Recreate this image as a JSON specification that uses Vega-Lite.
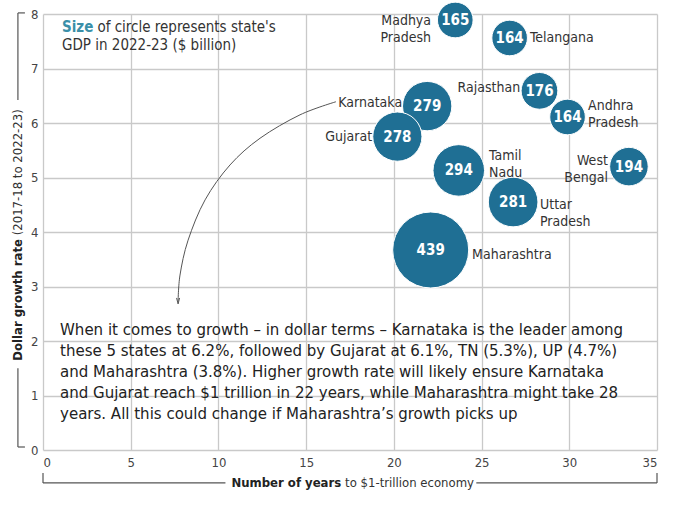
{
  "$schema": "https://vega.github.io/schema/vega-lite/v6.json",
  "width": 614,
  "height": 436,
  "autosize": {"type": "none"},
  "padding": {"left": 43, "top": 14, "right": 23, "bottom": 60},
  "background": "#ffffff",
  "config": {
    "view": {"stroke": null},
    "font": "DejaVu Sans Condensed, Roboto, sans-serif",
    "axis": {
      "labelFont": "DejaVu Sans Condensed, Roboto, sans-serif",
      "labelFontSize": 13,
      "labelColor": "#444444",
      "gridColor": "#c9c9c9",
      "gridWidth": 1.3,
      "domain": false,
      "ticks": false
    }
  },
  "datasets": {
    "states": [
      {"state": "Madhya Pradesh", "years": 23.5, "growth": 7.89, "gdp": 165},
      {"state": "Telangana", "years": 26.6, "growth": 7.56, "gdp": 164},
      {"state": "Rajasthan", "years": 28.3, "growth": 6.59, "gdp": 176},
      {"state": "Andhra Pradesh", "years": 29.9, "growth": 6.11, "gdp": 164},
      {"state": "Karnataka", "years": 21.9, "growth": 6.31, "gdp": 279},
      {"state": "Gujarat", "years": 20.2, "growth": 5.75, "gdp": 278},
      {"state": "Tamil Nadu", "years": 23.7, "growth": 5.13, "gdp": 294},
      {"state": "Uttar Pradesh", "years": 26.8, "growth": 4.55, "gdp": 281},
      {"state": "West Bengal", "years": 33.4, "growth": 5.2, "gdp": 194},
      {"state": "Maharashtra", "years": 22.1, "growth": 3.67, "gdp": 439}
    ],
    "labelsRight": [
      {"label": "Telangana", "x": 27.76, "y": 7.56},
      {"label": "Andhra\nPradesh", "x": 31.07, "y": 6.31},
      {"label": "Tamil\nNadu", "x": 25.43, "y": 5.39},
      {"label": "Uttar\nPradesh", "x": 28.33, "y": 4.5},
      {"label": "Maharashtra", "x": 24.46, "y": 3.58}
    ],
    "labelsLeft": [
      {"label": "Madhya\nPradesh", "x": 22.12, "y": 7.87},
      {"label": "Rajasthan", "x": 27.2, "y": 6.64},
      {"label": "Karnataka", "x": 20.47, "y": 6.37},
      {"label": "Gujarat", "x": 18.76, "y": 5.74},
      {"label": "West\nBengal", "x": 32.2, "y": 5.3}
    ],
    "para": [
      {"line": "When it comes to growth – in dollar terms – Karnataka is the leader among", "x": 0.97, "y": 2.2},
      {"line": "these 5 states at 6.2%, followed by Gujarat at 6.1%, TN (5.3%), UP (4.7%)", "x": 0.97, "y": 1.82},
      {"line": "and Maharashtra (3.8%). Higher growth rate will likely ensure Karnataka", "x": 0.97, "y": 1.43},
      {"line": "and Gujarat reach $1 trillion in 22 years, while Maharashtra might take 28", "x": 0.97, "y": 1.05},
      {"line": "years. All this could change if Maharashtra’s growth picks up", "x": 0.97, "y": 0.66}
    ],
    "arrow": [
      {"o": 1, "x": 16.7, "y": 6.39},
      {"o": 2, "x": 14.65, "y": 6.15},
      {"o": 3, "x": 12.37, "y": 5.72},
      {"o": 4, "x": 10.66, "y": 5.23},
      {"o": 5, "x": 9.24, "y": 4.59},
      {"o": 6, "x": 8.27, "y": 3.85},
      {"o": 7, "x": 7.81, "y": 3.21},
      {"o": 8, "x": 7.7, "y": 2.72}
    ],
    "arrowTip": [{"x": 7.7, "y": 2.68}],
    "brackets": [
      {"x": 0, "x2": 10.4, "y": -0.605, "y2": -0.605},
      {"x": 24.7, "x2": 35, "y": -0.605, "y2": -0.605},
      {"x": 0, "x2": 0, "y": -0.605, "y2": -0.42},
      {"x": 35, "x2": 35, "y": -0.605, "y2": -0.42},
      {"x": -1.43, "x2": -1.43, "y": 8.02, "y2": 6.42},
      {"x": -1.43, "x2": -1.43, "y": 1.5, "y2": 0.055},
      {"x": -1.43, "x2": -1.03, "y": 8.02, "y2": 8.02},
      {"x": -1.43, "x2": -1.03, "y": 0.055, "y2": 0.055}
    ],
    "titlesBold": [{"t": "Number of years", "x": 17.0, "y": -0.605}],
    "titlesReg": [{"t": "to $1-trillion economy", "x": 17.22, "y": -0.605}],
    "ytitleBold": [{"t": "Dollar growth rate", "x": -1.43, "y": 3.87}],
    "ytitleReg": [{"t": "(2017-18 to 2022-23)", "x": -1.43, "y": 3.94}],
    "noteBold": [{"t": "Size", "x": 1.08, "y": 7.76}],
    "noteReg": [
      {"t": "of circle represents state's", "x": 3.1, "y": 7.76},
      {"t": "GDP in 2022-23 ($ billion)", "x": 1.08, "y": 7.43}
    ]
  },
  "layer": [
    {
      "data": {"name": "states"},
      "mark": {"type": "circle", "opacity": 1, "color": "#1f6f94", "stroke": "#ffffff", "strokeWidth": 1},
      "encoding": {
        "x": {"field": "years", "type": "quantitative",
          "scale": {"domain": [0, 35], "nice": false},
          "axis": {"values": [0, 5, 10, 15, 20, 25, 30, 35], "title": null, "labelPadding": 6}},
        "y": {"field": "growth", "type": "quantitative",
          "scale": {"domain": [0, 8], "nice": false},
          "axis": {"values": [0, 1, 2, 3, 4, 5, 6, 7, 8], "title": null, "labelPadding": 5}},
        "size": {"field": "gdp", "type": "quantitative",
          "scale": {"type": "pow", "exponent": 2.5, "zero": false, "domain": [164, 439], "range": [1267, 5776]},
          "legend": null}
      }
    },
    {
      "data": {"name": "states"},
      "mark": {"type": "text", "color": "#ffffff", "fontWeight": "bold", "fontSize": 15, "baseline": "middle", "align": "center"},
      "encoding": {
        "x": {"field": "years", "type": "quantitative"},
        "y": {"field": "growth", "type": "quantitative"},
        "text": {"field": "gdp", "type": "quantitative"}
      }
    },
    {
      "data": {"name": "labelsRight"},
      "mark": {"type": "text", "color": "#333333", "fontSize": 14, "baseline": "middle", "align": "left", "lineBreak": "\n", "lineHeight": 17},
      "encoding": {
        "x": {"field": "x", "type": "quantitative"},
        "y": {"field": "y", "type": "quantitative"},
        "text": {"field": "label"}
      }
    },
    {
      "data": {"name": "labelsLeft"},
      "mark": {"type": "text", "color": "#333333", "fontSize": 14, "baseline": "middle", "align": "right", "lineBreak": "\n", "lineHeight": 17},
      "encoding": {
        "x": {"field": "x", "type": "quantitative"},
        "y": {"field": "y", "type": "quantitative"},
        "text": {"field": "label"}
      }
    },
    {
      "data": {"name": "para"},
      "mark": {"type": "text", "color": "#222222", "fontSize": 16.7, "baseline": "middle", "align": "left"},
      "encoding": {
        "x": {"field": "x", "type": "quantitative"},
        "y": {"field": "y", "type": "quantitative"},
        "text": {"field": "line"}
      }
    },
    {
      "data": {"name": "arrow"},
      "mark": {"type": "line", "color": "#555555", "strokeWidth": 1, "interpolate": "cardinal"},
      "encoding": {
        "x": {"field": "x", "type": "quantitative"},
        "y": {"field": "y", "type": "quantitative"},
        "order": {"field": "o", "type": "quantitative"}
      }
    },
    {
      "data": {"name": "arrowTip"},
      "mark": {"type": "point", "shape": "M-1,-4L0,0L1,-4", "filled": false, "color": "#555555", "strokeWidth": 1, "size": 9, "opacity": 1},
      "encoding": {
        "x": {"field": "x", "type": "quantitative"},
        "y": {"field": "y", "type": "quantitative"}
      }
    },
    {
      "data": {"name": "brackets"},
      "mark": {"type": "rule", "color": "#555555", "strokeWidth": 1.2},
      "encoding": {
        "x": {"field": "x", "type": "quantitative"},
        "x2": {"field": "x2"},
        "y": {"field": "y", "type": "quantitative"},
        "y2": {"field": "y2"}
      }
    },
    {
      "data": {"name": "titlesBold"},
      "mark": {"type": "text", "color": "#222222", "fontSize": 13, "fontWeight": "bold", "baseline": "middle", "align": "right"},
      "encoding": {
        "x": {"field": "x", "type": "quantitative"},
        "y": {"field": "y", "type": "quantitative"},
        "text": {"field": "t"}
      }
    },
    {
      "data": {"name": "titlesReg"},
      "mark": {"type": "text", "color": "#333333", "fontSize": 13, "baseline": "middle", "align": "left"},
      "encoding": {
        "x": {"field": "x", "type": "quantitative"},
        "y": {"field": "y", "type": "quantitative"},
        "text": {"field": "t"}
      }
    },
    {
      "data": {"name": "ytitleBold"},
      "mark": {"type": "text", "color": "#222222", "fontSize": 13, "fontWeight": "bold", "baseline": "middle", "align": "right", "angle": 270},
      "encoding": {
        "x": {"field": "x", "type": "quantitative"},
        "y": {"field": "y", "type": "quantitative"},
        "text": {"field": "t"}
      }
    },
    {
      "data": {"name": "ytitleReg"},
      "mark": {"type": "text", "color": "#333333", "fontSize": 13, "baseline": "middle", "align": "left", "angle": 270},
      "encoding": {
        "x": {"field": "x", "type": "quantitative"},
        "y": {"field": "y", "type": "quantitative"},
        "text": {"field": "t"}
      }
    },
    {
      "data": {"name": "noteBold"},
      "mark": {"type": "text", "color": "#3a8fa8", "fontSize": 15, "fontWeight": "bold", "baseline": "middle", "align": "left"},
      "encoding": {
        "x": {"field": "x", "type": "quantitative"},
        "y": {"field": "y", "type": "quantitative"},
        "text": {"field": "t"}
      }
    },
    {
      "data": {"name": "noteReg"},
      "mark": {"type": "text", "color": "#333333", "fontSize": 15, "baseline": "middle", "align": "left"},
      "encoding": {
        "x": {"field": "x", "type": "quantitative"},
        "y": {"field": "y", "type": "quantitative"},
        "text": {"field": "t"}
      }
    }
  ]
}
